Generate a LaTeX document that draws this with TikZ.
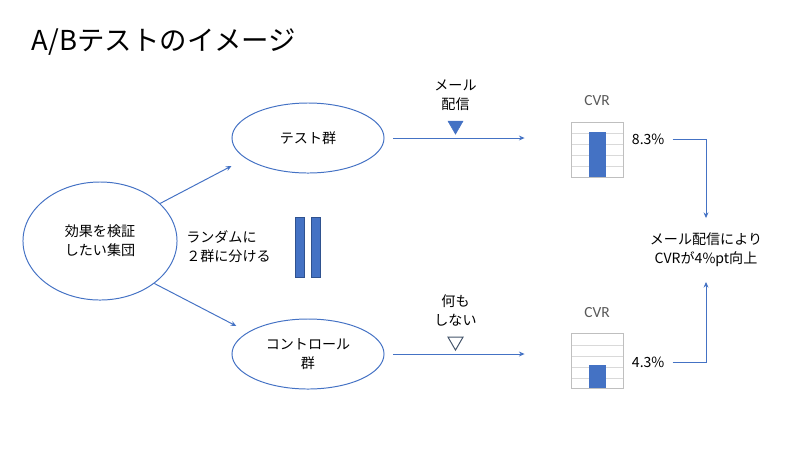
\documentclass[tikz,border=0pt]{standalone}
\usepackage{fontspec}
\setmainfont{Noto Sans CJK JP}
\newfontfamily\chartfont{Carlito}
\usetikzlibrary{arrows.meta, shapes.geometric, calc}

\begin{document}
\begin{tikzpicture}[x=0.025cm, y=-0.025cm,
    every node/.style={font=\fontsize{10}{13.5}\selectfont, text=textColour},
    group/.style={ellipse, draw=lineColour, line width=0.7pt, align=center, inner sep=0pt},
    flow/.style={draw=lineColour, line width=0.7pt, -{Stealth[length=4pt, width=3.5pt]}},
    tridown/.style={regular polygon, regular polygon sides=3, shape border rotate=180,
        minimum size=0.43cm, inner sep=0pt},
    splitbar/.style={rectangle, fill=barColour, draw=barEdge, line width=0.5pt,
        minimum width=0.225cm, minimum height=1.5cm, inner sep=0pt},
    chartbox/.style={rectangle, draw=boxColour, line width=0.6pt,
        minimum width=1.3cm, minimum height=1.375cm, inner sep=0pt},
    chartgrid/.style={draw=gridColour, line width=0.5pt},
    cvrlabel/.style={font=\chartfont\fontsize{11}{13}\selectfont, text=labelColour}]

    \definecolor{textColour}{HTML}{000000}
    \definecolor{lineColour}{HTML}{4472C4}
    \definecolor{barColour}{HTML}{4472C4}
    \definecolor{barEdge}{HTML}{2F528F}
    \definecolor{gridColour}{HTML}{D9D9D9}
    \definecolor{boxColour}{HTML}{BFBFBF}
    \definecolor{labelColour}{HTML}{595959}
    \definecolor{markEdge}{HTML}{44546A}

    % Fix the canvas
    \useasboundingbox (0,0) rectangle (800,450);

    % Title
    \node[anchor=west, font=\fontsize{19.5}{24}\selectfont] (title) at (27,42) {A/Bテストのイメージ};

    % Groups
    \node[group, minimum width=3.85cm, minimum height=2.95cm] (group) at (100,241) {効果を検証\\したい集団};
    \node[group, minimum width=3.8cm, minimum height=1.75cm] (test) at (308,138) {テスト群};
    \node[group, minimum width=3.8cm, minimum height=1.75cm] (control) at (308,354) {コントロール\\群};

    % Random split
    \node[anchor=west, align=left, inner sep=0pt] (split) at (186,247) {ランダムに\\２群に分ける};
    \node[splitbar] (barl) at (299.5,247) {};
    \node[splitbar] (barr) at (315.5,247) {};

    % Treatment labels
    \node[align=center] (send) at (455.5,95) {メール\\配信};
    \node[tridown, fill=barColour, draw=barColour] (sendmark) at (455.5,125.5) {};
    \node[align=center] (nothing) at (455.5,310) {何も\\しない};
    \node[tridown, draw=markEdge, line width=0.7pt] (nothingmark) at (455.5,341.5) {};

    % Draw charts
    \foreach \boxtop/\bartop in {122/132, 334/365} {
        \foreach \k in {1,...,4}
            \draw[chartgrid] (571,\boxtop+\k*11) -- (623,\boxtop+\k*11);
        \fill[barColour] (589,\bartop) rectangle (606,\boxtop+55);
    }
    \node[chartbox] (testchart) at (597,149.5) {};
    \node[chartbox] (ctrlchart) at (597,361) {};
    \node[cvrlabel] (testcvr) at (597,101) {CVR};
    \node[cvrlabel] (ctrlcvr) at (597,313) {CVR};

    % Rates and result
    \node[anchor=west] (uprate) at (627,139) {8.3\%};
    \node[anchor=west] (downrate) at (627,362) {4.3\%};
    \node[align=center] (result) at (706,250) {メール配信により\\CVRが4\%pt向上};

    % Draw connectors
    \draw[flow] (group.32) -- ([yshift=-0.7cm]test.west);
    \draw[flow] (group.-38) -- ([xshift=0.12cm, yshift=0.7cm]control.west);
    \draw[flow] ([xshift=0.22cm]test.east) -- ($(test.east -| testchart.west)+(-1.15cm,0)$);
    \draw[flow] ([xshift=0.22cm]control.east) -- ($(control.east -| ctrlchart.west)+(-1.15cm,0)$);
    \draw[flow, shorten >=0.25cm] ([xshift=0.08cm]uprate.east) -| (result.north);
    \draw[flow, shorten >=0.25cm] ([xshift=0.08cm]downrate.east) -| (result.south);

\end{tikzpicture}
\end{document}
